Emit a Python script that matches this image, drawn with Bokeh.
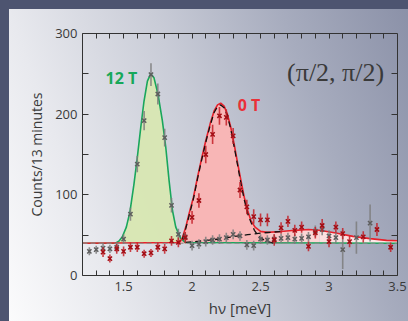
from bokeh.plotting import figure
from bokeh.models import ColumnDataSource, LinearAxis, FixedTicker, Label, Range1d
from bokeh.embed import file_html
from bokeh.resources import INLINE

# ---------------- data ----------------
gray_x = [1.25, 1.30, 1.35, 1.40, 1.45, 1.50, 1.55, 1.60, 1.65, 1.70, 1.75, 1.80, 1.85, 1.90,
          1.95, 2.00, 2.05, 2.10, 2.15, 2.20, 2.25, 2.30, 2.35, 2.40, 2.45, 2.50, 2.55, 2.60,
          2.65, 2.70, 2.75, 2.80, 2.85, 2.90, 2.95, 3.00, 3.05, 3.10, 3.20, 3.30]
gray_y = [30, 32, 34, 33, 35, 45, 76, 138, 192, 249, 225, 171, 87, 51,
          48, 37, 39, 42, 44, 45, 47, 51, 49, 38, 37, 45, 44, 45,
          46, 47, 45, 46, 48, 55, 57, 49, 47, 32, 47, 65]
gray_err = [5, 5, 6, 5, 6, 6, 8, 10, 12, 14, 13, 11, 9, 7,
            6, 6, 6, 6, 6, 6, 6, 6, 6, 6, 6, 6, 6, 6,
            6, 6, 6, 6, 6, 7, 7, 7, 7, 24, 20, 23]

red_x = [1.35, 1.40, 1.45, 1.50, 1.55, 1.60, 1.65, 1.70, 1.75, 1.80, 1.85, 1.90, 1.95, 2.00,
         2.05, 2.10, 2.15, 2.20, 2.25, 2.30, 2.35, 2.40, 2.45, 2.50, 2.55, 2.60, 2.65, 2.70,
         2.75, 2.80, 2.85, 2.90, 2.95, 3.00, 3.05, 3.10, 3.15, 3.25, 3.35, 3.45]
red_y = [29, 21, 33, 30, 35, 35, 27, 28, 35, 33, 43, 41, 47, 72,
         93, 150, 175, 198, 196, 173, 106, 85, 73, 69, 69, 44, 59, 67,
         56, 60, 36, 53, 62, 42, 60, 52, 42, 48, 57, 35]
red_err = [6, 5, 6, 6, 6, 6, 5, 5, 6, 6, 6, 6, 7, 8,
           9, 11, 12, 11, 10, 10, 10, 9, 9, 8, 8, 7, 7, 7,
           7, 7, 6, 7, 8, 7, 7, 7, 7, 7, 8, 6]

# fit curves
green_fit_x = [1.20, 1.44, 1.465, 1.49, 1.52, 1.546, 1.576, 1.60, 1.625, 1.649, 1.674, 1.698,
               1.722, 1.751, 1.783, 1.808, 1.832, 1.857, 1.881, 1.918, 1.95, 3.50]
green_fit_y = [40, 40, 42.5, 47.7, 60, 78.5, 113.6, 146, 183, 216, 241, 250,
               245, 225, 192, 159, 118, 80.6, 60, 45.7, 41, 40]

red_fit_x = [1.20, 1.91, 1.93, 1.954, 1.978, 2.01, 2.04, 2.071, 2.10, 2.132, 2.161, 2.186,
             2.209, 2.234, 2.258, 2.283, 2.307, 2.332, 2.357, 2.381, 2.406, 2.43, 2.46, 2.50,
             2.55, 2.65, 2.75, 2.85, 2.93, 3.05, 3.175, 3.30, 3.42, 3.50]
red_fit_y = [40, 41, 47, 60, 76.5, 97, 122, 146, 167, 188, 204, 211.5,
             213.6, 210, 200, 183.5, 163, 140, 117.6, 97, 80.6, 68, 60, 54.7,
             53.5, 54.5, 56, 57, 56, 52.6, 48.5, 45.7, 43.6, 43]

peak_fit_x = [1.93, 1.954, 1.978, 2.01, 2.04, 2.071, 2.10, 2.132, 2.161, 2.186, 2.209, 2.234,
              2.258, 2.283, 2.307, 2.332, 2.357, 2.381, 2.406, 2.43, 2.455, 2.484, 2.516, 2.55, 2.60]
peak_fit_y = [45, 58, 74, 95, 120, 144, 165, 186, 202, 209.5, 211.5, 208,
              198, 181, 160, 137, 114, 94, 76.5, 66, 56, 49, 45, 42, 40]

broad_fit_x = [1.95, 2.05, 2.16, 2.28, 2.406, 2.50, 2.55, 2.65]
broad_fit_y = [41, 42.5, 44.4, 47.7, 50.6, 52.6, 53.3, 54.5]

baseline = 40
baseline_x = [1.20, 3.50]

x_ticks = [1.5, 2.0, 2.5, 3.0, 3.5]
x_tick_labels = ["1.5", "2", "2.5", "3", "3.5"]
x_minor = [1.3, 1.4, 1.5, 1.6, 1.7, 1.8, 1.9, 2.0, 2.1, 2.2, 2.3, 2.4, 2.5, 2.6, 2.7, 2.8,
           2.9, 3.0, 3.1, 3.2, 3.3, 3.4]
y_ticks = [0, 100, 200, 300]
y_minor = [50, 150, 250]
y_right = [50, 100, 150, 200, 250]

# ---------------- figure ----------------
p = figure(width=408, height=321, x_range=Range1d(1.2, 3.5), y_range=Range1d(0, 300),
           output_backend="svg", toolbar_location=None,
           min_border_left=82, min_border_right=11, min_border_top=33, min_border_bottom=46,
           x_axis_label="hν [meV]", y_axis_label="Counts/13 minutes")
p.background_fill_alpha = 0
p.border_fill_alpha = 0
p.outline_line_color = None
p.xgrid.visible = False
p.ygrid.visible = False
p.styles = {
    "background": "linear-gradient(70deg, #fbfbfc 0%, #e8e9ee 22%, #c9ccd7 50%, #a7acbe 75%, #8b91a8 100%) 9px 9px / 399px 312px no-repeat, #4d5470",
}

# axes styling
for ax in (p.xaxis[0], p.yaxis[0]):
    ax.axis_line_color = "#333333"
    ax.major_tick_line_color = "#333333"
    ax.minor_tick_line_color = "#333333"
    ax.major_tick_out = 0
    ax.minor_tick_out = 0
    ax.major_label_text_font = "Open Sans"
    ax.major_label_text_font_size = "13px"
    ax.major_label_text_color = "#3a3a3a"
    ax.axis_label_text_font = "Open Sans"
    ax.axis_label_text_font_style = "normal"
    ax.axis_label_text_color = "#3a3a3a"

p.xaxis[0].ticker = FixedTicker(ticks=x_ticks, minor_ticks=x_minor)
p.xaxis[0].major_label_overrides = dict(zip(x_ticks, x_tick_labels))
p.xaxis[0].major_tick_in = 5
p.xaxis[0].minor_tick_in = 5
p.xaxis[0].major_label_standoff = 6
p.xaxis[0].axis_label_standoff = 4
p.xaxis[0].axis_label_text_font_size = "15px"

p.yaxis[0].ticker = FixedTicker(ticks=y_ticks, minor_ticks=y_minor)
p.yaxis[0].major_tick_in = 6
p.yaxis[0].minor_tick_in = 6
p.yaxis[0].major_label_standoff = 5
p.yaxis[0].axis_label_standoff = 6
p.yaxis[0].axis_label_text_font_size = "14px"

top = LinearAxis(ticker=FixedTicker(ticks=x_minor),
                 major_label_overrides={t: "" for t in x_minor},
                 major_label_text_color=None,
                 major_tick_in=5, major_tick_out=0, minor_tick_in=0, minor_tick_out=0,
                 axis_line_color="#333333", major_tick_line_color="#333333")
right = LinearAxis(ticker=FixedTicker(ticks=y_right),
                   major_label_overrides={t: "" for t in y_right},
                   major_label_text_color=None,
                   major_tick_in=6, major_tick_out=0, minor_tick_in=0, minor_tick_out=0,
                   axis_line_color="#333333", major_tick_line_color="#333333")
p.add_layout(top, "above")
p.add_layout(right, "right")

# ---------------- fills ----------------
gsel = [i for i, x in enumerate(green_fit_x) if 1.44 <= x <= 1.95]
p.varea(x=[green_fit_x[i] for i in gsel], y1=[baseline] * len(gsel),
        y2=[green_fit_y[i] for i in gsel], fill_color="#d8e7b2", fill_alpha=0.95)

pink_bands = [(1.91, 2.55, "#f8b6b6"), (2.55, 2.75, "#f9c7c7"), (2.75, 2.93, "#fbd5d5"),
              (2.93, 3.175, "#fcdfdf"), (3.175, 3.50, "#fde8e8")]
for a, b, col in pink_bands:
    sel = [i for i, x in enumerate(red_fit_x) if a <= x <= b]
    p.varea(x=[red_fit_x[i] for i in sel], y1=[baseline] * len(sel),
            y2=[red_fit_y[i] for i in sel], fill_color=col, fill_alpha=1.0)

# ---------------- fit lines ----------------
p.line(green_fit_x, green_fit_y, line_color="#19a65c", line_width=1.6)
p.line(red_fit_x, red_fit_y, line_color="#e8202a", line_width=1.6)
p.line(peak_fit_x, peak_fit_y, line_color="#111111", line_width=1.3, line_dash="6 4")
p.line(broad_fit_x, broad_fit_y, line_color="#111111", line_width=1.3, line_dash="6 4")
p.line(baseline_x, [baseline, baseline], line_color="#8a8a8a", line_width=1.2, line_dash="5 3")

# ---------------- data points ----------------
gsrc = ColumnDataSource(dict(x=gray_x, y=gray_y,
                             lo=[y - e for y, e in zip(gray_y, gray_err)],
                             hi=[y + e for y, e in zip(gray_y, gray_err)]))
rsrc = ColumnDataSource(dict(x=red_x, y=red_y,
                             lo=[y - e for y, e in zip(red_y, red_err)],
                             hi=[y + e for y, e in zip(red_y, red_err)]))

p.segment(x0="x", y0="lo", x1="x", y1="hi", source=gsrc, line_color="#7d7d7d",
          line_width=1.6, line_alpha=0.85)
p.scatter(x="x", y="y", source=gsrc, marker="x", size=6, line_color="#5e5e5e", line_width=1.5)
p.segment(x0="x", y0="lo", x1="x", y1="hi", source=rsrc, line_color="#c42028",
          line_width=1.6, line_alpha=0.85)
p.scatter(x="x", y="y", source=rsrc, marker="x", size=6, line_color="#a30d14", line_width=1.5)

# ---------------- labels ----------------
p.add_layout(Label(x=1.368, y=244.4, text="12 T", text_font="Open Sans", text_font_style="bold",
                   text_font_size="16px", text_color="#17a85a", text_align="left",
                   text_baseline="alphabetic"))
p.add_layout(Label(x=2.333, y=211.5, text="0 T", text_font="Open Sans", text_font_style="bold",
                   text_font_size="16px", text_color="#ea3038", text_align="left",
                   text_baseline="alphabetic"))
p.add_layout(Label(x=2.694, y=251.4, text="(π/2, π/2)", text_font="Liberation Serif",
                   text_font_size="26px", text_color="#3a3a3a", text_align="left",
                   text_baseline="alphabetic"))

open("out.html", "w").write(file_html(p, INLINE))
